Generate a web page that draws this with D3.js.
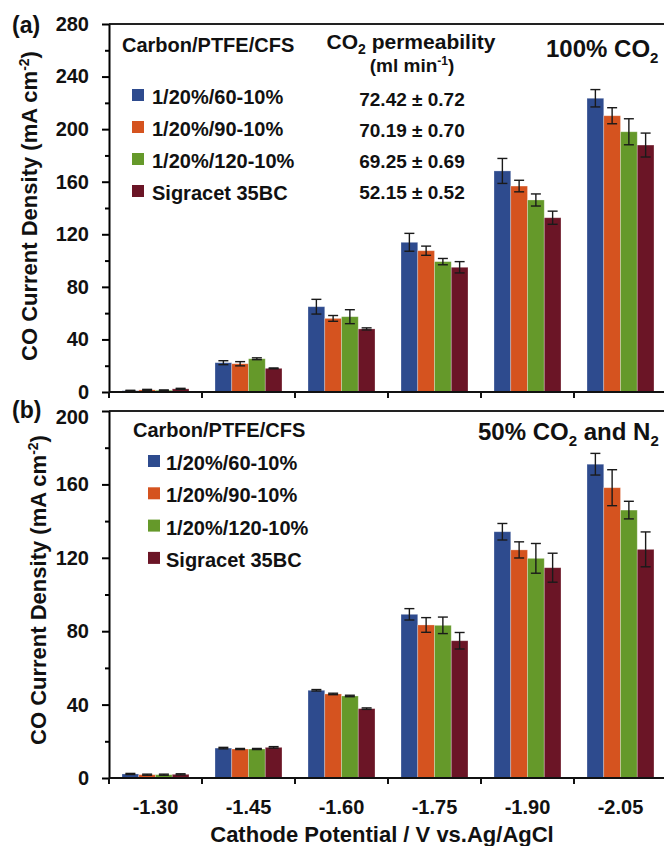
<!DOCTYPE html>
<html lang="en">
<head>
<meta charset="utf-8">
<script src="https://d3js.org/d3.v7.min.js"></script>
<style>
  body { margin: 0; background: #fff; }
  svg text { font-family: "Liberation Sans", Arial, sans-serif; font-weight: bold; fill: #111; }
</style>
</head>
<body>
<div id="chart"></div>
<script>
// categories and series
var categories = ["-1.30", "-1.45", "-1.60", "-1.75", "-1.90", "-2.05"];
var series = ["1/20%/60-10%", "1/20%/90-10%", "1/20%/120-10%", "Sigracet 35BC"];
var colors = ["#2e4b8e", "#d5531f", "#65992a", "#6b1526"];
var permeability = ["72.42 ± 0.72", "70.19 ± 0.70", "69.25 ± 0.69", "52.15 ± 0.52"];

// panel (a) 100% CO2
var valuesA = [
  [1.0, 22.3, 64.9, 113.9, 168.2, 223.5],
  [1.6, 21.5, 56.0, 107.5, 156.7, 210.2],
  [1.3, 25.3, 57.3, 99.2, 146.1, 198.0],
  [2.4, 18.0, 48.0, 94.9, 132.6, 187.9]
];
var errorsA = [
  [0.3, 1.5, 5.6, 6.8, 9.5, 6.6],
  [0.4, 1.6, 2.2, 3.5, 4.4, 6.1],
  [0.3, 0.7, 5.3, 2.4, 4.6, 9.9],
  [0.4, 0.3, 0.8, 4.3, 5.0, 9.1]
];
var yTicksA = [0, 40, 80, 120, 160, 200, 240, 280];

// panel (b) 50% CO2 and N2
var valuesB = [
  [2.2, 16.3, 47.8, 89.2, 134.2, 171.0],
  [1.8, 15.8, 45.8, 83.4, 124.3, 158.2],
  [1.8, 15.8, 44.7, 83.2, 119.7, 146.0],
  [2.0, 16.7, 37.8, 74.8, 114.6, 124.6]
];
var errorsB = [
  [0.3, 0.4, 0.4, 3.1, 4.5, 5.9],
  [0.3, 0.3, 0.4, 4.0, 4.4, 9.8],
  [0.3, 0.3, 0.4, 4.5, 8.1, 4.8],
  [0.3, 0.4, 0.4, 4.5, 7.9, 9.5]
];
var yTicksB = [0, 40, 80, 120, 160, 200];

var width = 664, height = 846;
var left = 109, right = 667;

var svg = d3.select("#chart").append("svg")
  .attr("width", width)
  .attr("height", height);

var x = d3.scaleBand().domain(categories).range([left, right]);
var xs = d3.scaleBand().domain(series).range([13, 80]);

function drawPanel(o) {
  var y = d3.scaleLinear().domain([0, o.max]).range([o.bottom, o.top]);
  var g = svg.append("g");

  // bars
  var rows = [];
  series.forEach(function(s, i) {
    categories.forEach(function(c, j) {
      rows.push({s: s, i: i, c: c, v: o.values[i][j], e: o.errors[i][j]});
    });
  });

  g.selectAll("rect.bar").data(rows).enter().append("rect")
    .attr("class", "bar")
    .attr("x", function(d) { return x(d.c) + xs(d.s); })
    .attr("width", xs.bandwidth())
    .attr("y", function(d) { return y(d.v); })
    .attr("height", function(d) { return y(0) - y(d.v); })
    .attr("fill", function(d) { return colors[d.i]; })
    .attr("stroke", "rgba(255,255,255,0.35)")
    .attr("stroke-width", 0.8);

  // error bars
  var eb = g.selectAll("g.err").data(rows).enter().append("g")
    .attr("class", "err")
    .attr("transform", function(d) { return "translate(" + (x(d.c) + xs(d.s) + xs.bandwidth() / 2) + ",0)"; })
    .attr("stroke", "#1a1a1a")
    .attr("stroke-width", 1.4);
  eb.append("line")
    .attr("y1", function(d) { return y(d.v + d.e); })
    .attr("y2", function(d) { return y(d.v - d.e); });
  eb.append("line").attr("x1", -5).attr("x2", 5)
    .attr("y1", function(d) { return y(d.v + d.e); })
    .attr("y2", function(d) { return y(d.v + d.e); });
  eb.append("line").attr("x1", -5).attr("x2", 5)
    .attr("y1", function(d) { return y(d.v - d.e); })
    .attr("y2", function(d) { return y(d.v - d.e); });

  // top frame line
  g.append("line")
    .attr("x1", left).attr("x2", width)
    .attr("y1", o.top).attr("y2", o.top)
    .attr("stroke", "#222").attr("stroke-width", 2);

  // y axis, minor then major
  var minor = d3.range(20, o.max, 40);
  g.append("g")
    .attr("transform", "translate(" + left + ",0)")
    .call(d3.axisLeft(y).tickValues(minor).tickSize(4).tickFormat(""))
    .call(function(a) { a.select(".domain").remove(); a.selectAll("line").attr("stroke-width", 2); });
  g.append("g")
    .attr("transform", "translate(" + left + ",0)")
    .call(d3.axisLeft(y).tickValues(o.ticks).tickSize(7).tickSizeOuter(0).tickPadding(13))
    .call(function(a) {
      a.select(".domain").attr("stroke-width", 2);
      a.selectAll("line").attr("stroke-width", 2);
      a.selectAll("text").attr("font-size", 20).attr("fill", "#111")
        .attr("dy", function(d) { return d === o.max ? o.topDy : "0.32em"; });
    });

  // x axis line and boundary ticks
  g.append("line")
    .attr("x1", left).attr("x2", width)
    .attr("y1", o.bottom).attr("y2", o.bottom)
    .attr("stroke", "#111").attr("stroke-width", 2);
  g.selectAll("line.xt").data(categories).enter().append("line")
    .attr("class", "xt")
    .attr("x1", function(d) { return x(d); })
    .attr("x2", function(d) { return x(d); })
    .attr("y1", o.bottom).attr("y2", o.bottom + 6)
    .attr("stroke", "#111").attr("stroke-width", 2);

  // y title
  var yt = g.append("text")
    .attr("transform", "translate(" + o.titleX + "," + o.titleY + ") rotate(-90)")
    .attr("text-anchor", "middle")
    .attr("font-size", 22);
  yt.append("tspan").text("CO Current Density (mA cm");
  yt.append("tspan").attr("dy", -8).attr("font-size", 14).text("-2");
  yt.append("tspan").attr("dy", 8).text(")");

  // panel letter
  g.append("text").attr("x", 12).attr("y", o.letterY)
    .attr("font-size", 23).text(o.letter);

  // legend
  g.append("text").attr("x", o.legX).attr("y", o.legTitleY)
    .attr("font-size", 20).text("Carbon/PTFE/CFS");
  var lg = g.selectAll("g.leg").data(series).enter().append("g")
    .attr("class", "leg")
    .attr("transform", function(d, i) { return "translate(" + o.boxX + "," + (o.rowY + i * o.rowStep) + ")"; });
  lg.append("rect").attr("x", 0).attr("y", -15).attr("width", 12).attr("height", 12)
    .attr("fill", function(d, i) { return colors[i]; });
  lg.append("text").attr("x", o.labX - o.boxX).attr("y", 0)
    .attr("font-size", 20).text(function(d) { return d; });

  // condition label
  var ct = g.append("text").attr("x", o.condX).attr("y", o.condY).attr("font-size", 24);
  o.cond.forEach(function(p) {
    var t = ct.append("tspan").text(p[0]);
    if (p[1]) t.attr("font-size", 15).attr("dy", 6);
    else if (p[2]) t.attr("dy", -6);
  });
  return g;
}

var gA = drawPanel({
  top: 24, bottom: 392, max: 280, ticks: yTicksA, topDy: "0.32em",
  values: valuesA, errors: errorsA,
  titleX: 37, titleY: 206, letter: "(a)", letterY: 33,
  legX: 122, legTitleY: 52, boxX: 132, labX: 152, rowY: 104, rowStep: 32,
  condX: 546, condY: 57, cond: [["100% CO"], ["2", true]]
});

var gB = drawPanel({
  top: 411, bottom: 778, max: 200, ticks: yTicksB, topDy: "0.62em",
  values: valuesB, errors: errorsB,
  titleX: 46, titleY: 590, letter: "(b)", letterY: 418,
  legX: 133, legTitleY: 437, boxX: 148, labX: 166, rowY: 470, rowStep: 32.3,
  condX: 478, condY: 440, cond: [["50% CO"], ["2", true], [" and N", false, true], ["2", true]]
});

// permeability column in panel (a)
var ph = gA.append("text").attr("x", 411).attr("y", 49).attr("text-anchor", "middle").attr("font-size", 21);
ph.append("tspan").text("CO");
ph.append("tspan").attr("font-size", 14).attr("dy", 5).text("2");
ph.append("tspan").attr("dy", -5).text(" permeability");
var pu = gA.append("text").attr("x", 412).attr("y", 72).attr("text-anchor", "middle").attr("font-size", 19);
pu.append("tspan").text("(ml min");
pu.append("tspan").attr("font-size", 12).attr("dy", -7).text("-1");
pu.append("tspan").attr("dy", 7).text(")");
gA.selectAll("text.perm").data(permeability).enter().append("text")
  .attr("class", "perm")
  .attr("x", 412)
  .attr("y", function(d, i) { return 106 + i * 31; })
  .attr("text-anchor", "middle")
  .attr("font-size", 19)
  .text(function(d) { return d; });

// x tick labels and title under panel (b)
svg.append("g")
  .attr("transform", "translate(0,814)")
  .selectAll("text").data(categories).enter().append("text")
  .attr("x", function(d) { return x(d) + x.bandwidth() / 2; })
  .attr("text-anchor", "middle")
  .attr("font-size", 20)
  .text(function(d) { return d; });
svg.append("text")
  .attr("x", 382).attr("y", 842)
  .attr("text-anchor", "middle")
  .attr("font-size", 22)
  .text("Cathode Potential / V vs.Ag/AgCl");
</script>
</body>
</html>
